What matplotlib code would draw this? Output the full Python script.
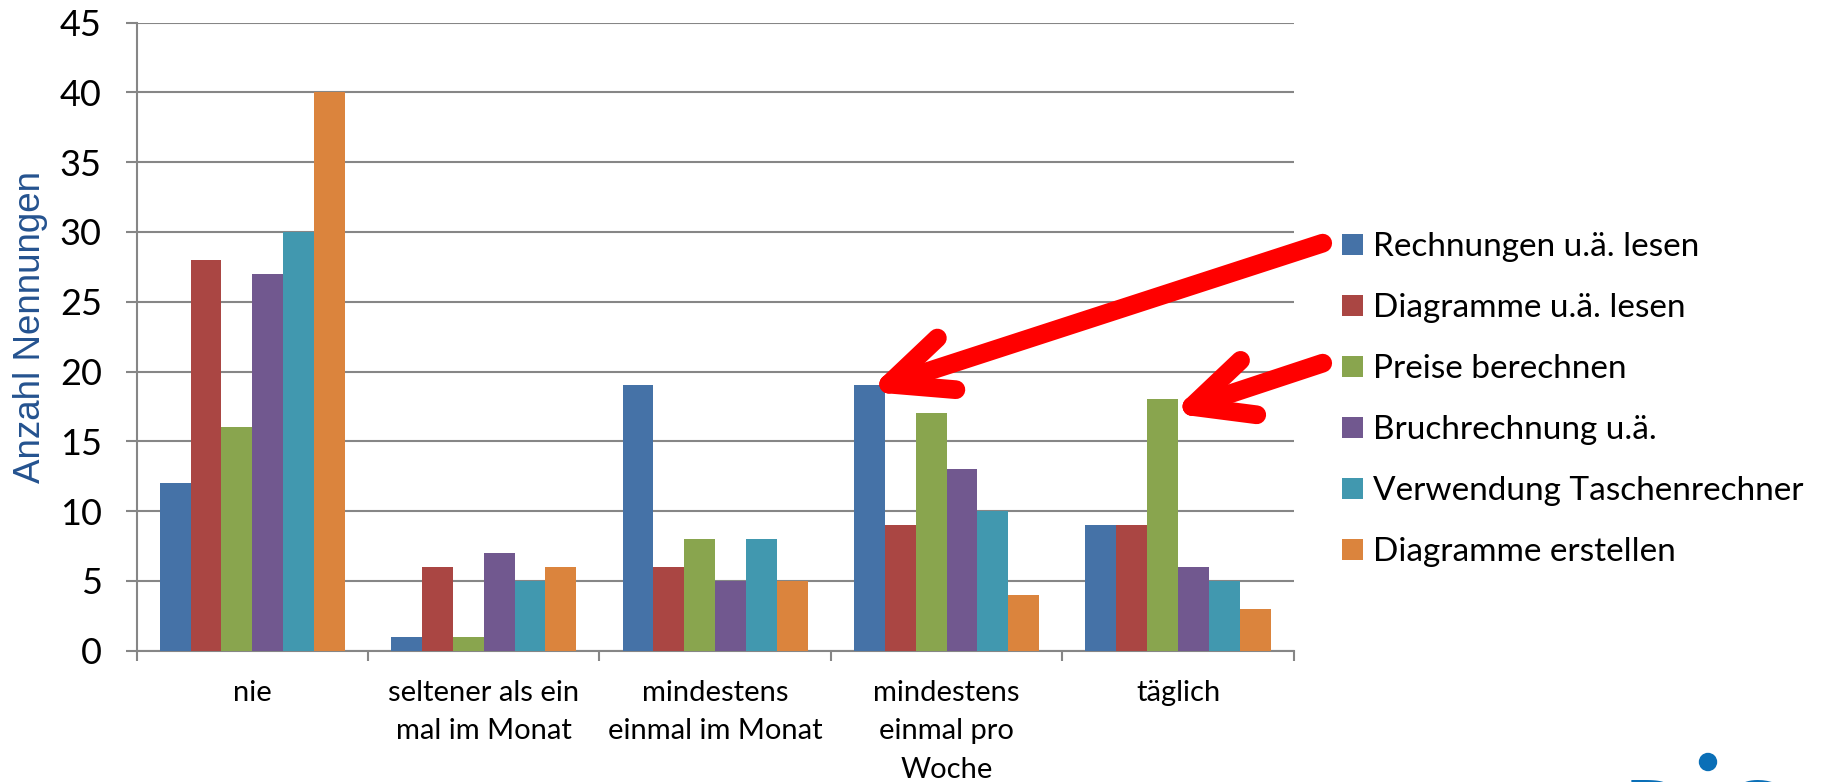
import matplotlib
matplotlib.use('Agg')
import matplotlib.pyplot as plt
import numpy as np
from matplotlib.patches import Circle

# ------------------------------- data
categories = ['nie', 'seltener als ein\nmal im Monat', 'mindestens\neinmal im Monat',
              'mindestens\neinmal pro\nWoche', 'täglich']
series_names = ['Rechnungen u.ä. lesen', 'Diagramme u.ä. lesen', 'Preise berechnen',
                'Bruchrechnung u.ä.', 'Verwendung Taschenrechner', 'Diagramme erstellen']
rechnungen_lesen = [12, 1, 19, 19, 9]
diagramme_lesen = [28, 6, 6, 9, 9]
preise_berechnen = [16, 1, 8, 17, 18]
bruchrechnung = [27, 7, 5, 13, 6]
taschenrechner = [30, 5, 8, 10, 5]
diagramme_erstellen = [40, 6, 5, 4, 3]
y_ticks = [0, 5, 10, 15, 20, 25, 30, 35, 40, 45]

series = [rechnungen_lesen, diagramme_lesen, preise_berechnen,
          bruchrechnung, taschenrechner, diagramme_erstellen]
colors = ['#4572A7', '#AA4643', '#89A54E', '#71588F', '#4198AF', '#DB843D']

FONT = ['Lato', 'DejaVu Sans']
plt.rcParams['font.family'] = FONT

fig = plt.figure(figsize=(18.31, 7.82), dpi=100)
ax = fig.add_axes([0.0746, 0.168, 0.632, 0.803])

x = np.arange(len(categories))
n = len(series)
w = 0.8 / n
for i, (vals, name, c) in enumerate(zip(series, series_names, colors)):
    ax.bar(x - 0.4 + w * (i + 0.5), vals, width=w, color=c, label=name,
           linewidth=0, zorder=3)

# ------------------------------- axes, Excel style
grid_c = '#868686'
ax.set_xlim(-0.5, len(categories) - 0.5)
ax.set_ylim(0, 45)
ax.set_yticks(y_ticks)
ax.yaxis.grid(True, color=grid_c, linewidth=1.5, zorder=0)
for s in ['top', 'right']:
    ax.spines[s].set_visible(False)
for s in ['left', 'bottom']:
    ax.spines[s].set_color(grid_c)
    ax.spines[s].set_linewidth(1.5)
ax.tick_params(axis='y', length=8, width=1.5, color=grid_c, pad=17, labelsize=26)
ax.set_xticks(x)
ax.set_xticklabels(categories, fontsize=21, linespacing=1.6)
ax.tick_params(axis='x', which='major', length=0, pad=21)
ax.set_xticks(np.arange(-0.5, len(categories)), minor=True)
ax.tick_params(axis='x', which='minor', length=7, width=1.5, color=grid_c)
ax.set_ylabel('Anzahl Nennungen', fontsize=26.5, color='#24528F',
              family=['Liberation Sans Narrow', 'Liberation Sans'])
ax.yaxis.set_label_coords(-0.0767, 0.515)

leg = ax.legend(loc='center left', bbox_to_anchor=(0.733, 0.4888),
                bbox_transform=fig.transFigure, frameon=False, fontsize=24,
                handlelength=0.62, handleheight=0.62, handletextpad=0.32,
                labelspacing=0.93, borderpad=0, borderaxespad=0)

# ------------------------------- red hint arrows (tail, tip, two arm ends)
arrows = [
    ((4.625, 29.2), (2.75, 19.1), (2.96, 22.4), (3.04, 18.7)),
    ((4.625, 20.6), (4.06, 17.5), (4.27, 20.8), (4.34, 16.9)),
]
for tail, tip, arm1, arm2 in arrows:
    for p in (tail, arm1, arm2):
        ax.plot([p[0], tip[0]], [p[1], tip[1]], color='#FF0000', linewidth=13.5,
                solid_capstyle='round', clip_on=False, zorder=5)

# ------------------------------- cut-off logo in the lower right corner
logo_c = '#0A6FB7'
base_y = -0.063
fig.text(1625 / 1831, base_y, 'D', color=logo_c, fontsize=50, fontweight='bold',
         family='DejaVu Sans', ha='left', va='baseline')
fig.text(1699 / 1831, base_y, '\u0131', color=logo_c, fontsize=50, fontweight='bold',
         family='DejaVu Sans', ha='left', va='baseline')
fig.text(1726 / 1831, base_y, 'G', color=logo_c, fontsize=50, fontweight='bold',
         family='DejaVu Sans', ha='left', va='baseline')
fig.patches.append(Circle((1708, 782 - 762), 8.5, transform=None, color=logo_c))

fig.savefig('out.png', dpi=100)
